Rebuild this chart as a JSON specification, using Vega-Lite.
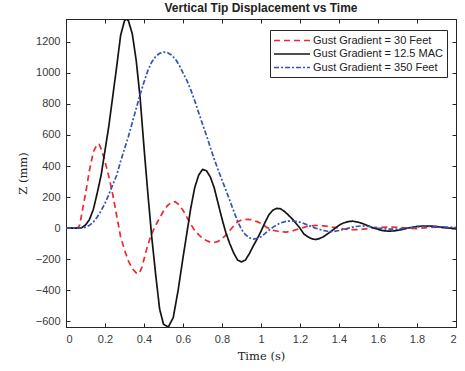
{
  "$schema": "https://vega.github.io/schema/vega-lite/v6.json",
  "autosize": {"type": "none"},
  "padding": {"left": 66, "top": 19, "right": 9, "bottom": 44},
  "width": 390,
  "height": 308,
  "background": "white",
  "title": {"text": "Vertical Tip Displacement vs Time", "font": "Liberation Sans", "fontSize": 12, "fontWeight": "bold", "color": "#222222", "anchor": "middle", "offset": 4},
  "datasets": {
    "pts": [
      {"t":0,"z":0,"s":"30 Feet"},{"t":0.06,"z":0,"s":"30 Feet"},{"t":0.07,"z":20,"s":"30 Feet"},{"t":0.08,"z":85,"s":"30 Feet"},{"t":0.09,"z":155,"s":"30 Feet"},{"t":0.1,"z":220,"s":"30 Feet"},{"t":0.12,"z":370,"s":"30 Feet"},{"t":0.14,"z":490,"s":"30 Feet"},{"t":0.16,"z":540,"s":"30 Feet"},{"t":0.17,"z":540,"s":"30 Feet"},{"t":0.18,"z":510,"s":"30 Feet"},{"t":0.2,"z":430,"s":"30 Feet"},{"t":0.22,"z":330,"s":"30 Feet"},{"t":0.24,"z":215,"s":"30 Feet"},{"t":0.26,"z":80,"s":"30 Feet"},{"t":0.28,"z":-55,"s":"30 Feet"},{"t":0.3,"z":-140,"s":"30 Feet"},{"t":0.32,"z":-210,"s":"30 Feet"},{"t":0.34,"z":-260,"s":"30 Feet"},{"t":0.36,"z":-288,"s":"30 Feet"},{"t":0.375,"z":-292,"s":"30 Feet"},{"t":0.39,"z":-250,"s":"30 Feet"},{"t":0.4,"z":-200,"s":"30 Feet"},{"t":0.42,"z":-105,"s":"30 Feet"},{"t":0.44,"z":-35,"s":"30 Feet"},{"t":0.46,"z":20,"s":"30 Feet"},{"t":0.48,"z":65,"s":"30 Feet"},{"t":0.5,"z":110,"s":"30 Feet"},{"t":0.52,"z":145,"s":"30 Feet"},{"t":0.54,"z":165,"s":"30 Feet"},{"t":0.56,"z":170,"s":"30 Feet"},{"t":0.58,"z":150,"s":"30 Feet"},{"t":0.6,"z":115,"s":"30 Feet"},{"t":0.62,"z":70,"s":"30 Feet"},{"t":0.64,"z":25,"s":"30 Feet"},{"t":0.66,"z":-15,"s":"30 Feet"},{"t":0.68,"z":-42,"s":"30 Feet"},{"t":0.7,"z":-65,"s":"30 Feet"},{"t":0.72,"z":-80,"s":"30 Feet"},{"t":0.74,"z":-90,"s":"30 Feet"},{"t":0.76,"z":-92,"s":"30 Feet"},{"t":0.78,"z":-85,"s":"30 Feet"},{"t":0.8,"z":-68,"s":"30 Feet"},{"t":0.82,"z":-45,"s":"30 Feet"},{"t":0.84,"z":-15,"s":"30 Feet"},{"t":0.86,"z":15,"s":"30 Feet"},{"t":0.88,"z":40,"s":"30 Feet"},{"t":0.9,"z":52,"s":"30 Feet"},{"t":0.92,"z":56,"s":"30 Feet"},{"t":0.95,"z":55,"s":"30 Feet"},{"t":0.98,"z":42,"s":"30 Feet"},{"t":1.0,"z":30,"s":"30 Feet"},{"t":1.03,"z":5,"s":"30 Feet"},{"t":1.06,"z":-13,"s":"30 Feet"},{"t":1.1,"z":-24,"s":"30 Feet"},{"t":1.13,"z":-25,"s":"30 Feet"},{"t":1.16,"z":-18,"s":"30 Feet"},{"t":1.2,"z":-2,"s":"30 Feet"},{"t":1.24,"z":12,"s":"30 Feet"},{"t":1.28,"z":18,"s":"30 Feet"},{"t":1.32,"z":15,"s":"30 Feet"},{"t":1.36,"z":8,"s":"30 Feet"},{"t":1.4,"z":0,"s":"30 Feet"},{"t":1.45,"z":-10,"s":"30 Feet"},{"t":1.5,"z":-10,"s":"30 Feet"},{"t":1.55,"z":-2,"s":"30 Feet"},{"t":1.6,"z":5,"s":"30 Feet"},{"t":1.65,"z":7,"s":"30 Feet"},{"t":1.7,"z":6,"s":"30 Feet"},{"t":1.75,"z":0,"s":"30 Feet"},{"t":1.8,"z":-3,"s":"30 Feet"},{"t":1.85,"z":3,"s":"30 Feet"},{"t":1.9,"z":7,"s":"30 Feet"},{"t":1.95,"z":2,"s":"30 Feet"},{"t":2.0,"z":-5,"s":"30 Feet"},

      {"t":0,"z":0,"s":"12.5 MAC"},{"t":0.05,"z":0,"s":"12.5 MAC"},{"t":0.08,"z":3,"s":"12.5 MAC"},{"t":0.1,"z":20,"s":"12.5 MAC"},{"t":0.12,"z":55,"s":"12.5 MAC"},{"t":0.14,"z":120,"s":"12.5 MAC"},{"t":0.16,"z":225,"s":"12.5 MAC"},{"t":0.18,"z":340,"s":"12.5 MAC"},{"t":0.2,"z":500,"s":"12.5 MAC"},{"t":0.22,"z":660,"s":"12.5 MAC"},{"t":0.24,"z":850,"s":"12.5 MAC"},{"t":0.26,"z":1040,"s":"12.5 MAC"},{"t":0.28,"z":1240,"s":"12.5 MAC"},{"t":0.3,"z":1335,"s":"12.5 MAC"},{"t":0.31,"z":1346,"s":"12.5 MAC"},{"t":0.32,"z":1335,"s":"12.5 MAC"},{"t":0.34,"z":1250,"s":"12.5 MAC"},{"t":0.36,"z":1080,"s":"12.5 MAC"},{"t":0.38,"z":840,"s":"12.5 MAC"},{"t":0.4,"z":520,"s":"12.5 MAC"},{"t":0.42,"z":220,"s":"12.5 MAC"},{"t":0.44,"z":-60,"s":"12.5 MAC"},{"t":0.46,"z":-300,"s":"12.5 MAC"},{"t":0.48,"z":-520,"s":"12.5 MAC"},{"t":0.5,"z":-618,"s":"12.5 MAC"},{"t":0.525,"z":-636,"s":"12.5 MAC"},{"t":0.55,"z":-575,"s":"12.5 MAC"},{"t":0.575,"z":-400,"s":"12.5 MAC"},{"t":0.6,"z":-190,"s":"12.5 MAC"},{"t":0.62,"z":-30,"s":"12.5 MAC"},{"t":0.64,"z":130,"s":"12.5 MAC"},{"t":0.66,"z":260,"s":"12.5 MAC"},{"t":0.68,"z":340,"s":"12.5 MAC"},{"t":0.7,"z":378,"s":"12.5 MAC"},{"t":0.72,"z":370,"s":"12.5 MAC"},{"t":0.74,"z":330,"s":"12.5 MAC"},{"t":0.76,"z":260,"s":"12.5 MAC"},{"t":0.78,"z":160,"s":"12.5 MAC"},{"t":0.8,"z":60,"s":"12.5 MAC"},{"t":0.82,"z":-30,"s":"12.5 MAC"},{"t":0.84,"z":-100,"s":"12.5 MAC"},{"t":0.86,"z":-160,"s":"12.5 MAC"},{"t":0.88,"z":-205,"s":"12.5 MAC"},{"t":0.9,"z":-217,"s":"12.5 MAC"},{"t":0.92,"z":-205,"s":"12.5 MAC"},{"t":0.94,"z":-165,"s":"12.5 MAC"},{"t":0.96,"z":-115,"s":"12.5 MAC"},{"t":0.98,"z":-70,"s":"12.5 MAC"},{"t":1.0,"z":-20,"s":"12.5 MAC"},{"t":1.02,"z":35,"s":"12.5 MAC"},{"t":1.04,"z":85,"s":"12.5 MAC"},{"t":1.06,"z":115,"s":"12.5 MAC"},{"t":1.08,"z":127,"s":"12.5 MAC"},{"t":1.1,"z":125,"s":"12.5 MAC"},{"t":1.12,"z":108,"s":"12.5 MAC"},{"t":1.14,"z":85,"s":"12.5 MAC"},{"t":1.16,"z":60,"s":"12.5 MAC"},{"t":1.18,"z":30,"s":"12.5 MAC"},{"t":1.2,"z":0,"s":"12.5 MAC"},{"t":1.22,"z":-38,"s":"12.5 MAC"},{"t":1.24,"z":-55,"s":"12.5 MAC"},{"t":1.26,"z":-68,"s":"12.5 MAC"},{"t":1.28,"z":-73,"s":"12.5 MAC"},{"t":1.3,"z":-67,"s":"12.5 MAC"},{"t":1.32,"z":-55,"s":"12.5 MAC"},{"t":1.34,"z":-38,"s":"12.5 MAC"},{"t":1.36,"z":-20,"s":"12.5 MAC"},{"t":1.38,"z":0,"s":"12.5 MAC"},{"t":1.4,"z":18,"s":"12.5 MAC"},{"t":1.42,"z":32,"s":"12.5 MAC"},{"t":1.45,"z":43,"s":"12.5 MAC"},{"t":1.47,"z":45,"s":"12.5 MAC"},{"t":1.5,"z":38,"s":"12.5 MAC"},{"t":1.52,"z":30,"s":"12.5 MAC"},{"t":1.55,"z":15,"s":"12.5 MAC"},{"t":1.58,"z":0,"s":"12.5 MAC"},{"t":1.62,"z":-15,"s":"12.5 MAC"},{"t":1.65,"z":-19,"s":"12.5 MAC"},{"t":1.68,"z":-18,"s":"12.5 MAC"},{"t":1.72,"z":-10,"s":"12.5 MAC"},{"t":1.76,"z":2,"s":"12.5 MAC"},{"t":1.8,"z":11,"s":"12.5 MAC"},{"t":1.84,"z":14,"s":"12.5 MAC"},{"t":1.88,"z":13,"s":"12.5 MAC"},{"t":1.92,"z":7,"s":"12.5 MAC"},{"t":1.96,"z":1,"s":"12.5 MAC"},{"t":2.0,"z":-3,"s":"12.5 MAC"},

      {"t":0,"z":0,"s":"350 Feet"},{"t":0.06,"z":0,"s":"350 Feet"},{"t":0.08,"z":1,"s":"350 Feet"},{"t":0.1,"z":6,"s":"350 Feet"},{"t":0.12,"z":18,"s":"350 Feet"},{"t":0.14,"z":38,"s":"350 Feet"},{"t":0.16,"z":72,"s":"350 Feet"},{"t":0.18,"z":112,"s":"350 Feet"},{"t":0.2,"z":160,"s":"350 Feet"},{"t":0.22,"z":218,"s":"350 Feet"},{"t":0.24,"z":280,"s":"350 Feet"},{"t":0.26,"z":340,"s":"350 Feet"},{"t":0.28,"z":430,"s":"350 Feet"},{"t":0.3,"z":510,"s":"350 Feet"},{"t":0.32,"z":590,"s":"350 Feet"},{"t":0.34,"z":680,"s":"350 Feet"},{"t":0.36,"z":770,"s":"350 Feet"},{"t":0.38,"z":860,"s":"350 Feet"},{"t":0.4,"z":940,"s":"350 Feet"},{"t":0.42,"z":1015,"s":"350 Feet"},{"t":0.44,"z":1070,"s":"350 Feet"},{"t":0.46,"z":1105,"s":"350 Feet"},{"t":0.48,"z":1125,"s":"350 Feet"},{"t":0.5,"z":1133,"s":"350 Feet"},{"t":0.52,"z":1130,"s":"350 Feet"},{"t":0.54,"z":1115,"s":"350 Feet"},{"t":0.56,"z":1090,"s":"350 Feet"},{"t":0.58,"z":1050,"s":"350 Feet"},{"t":0.6,"z":1000,"s":"350 Feet"},{"t":0.62,"z":950,"s":"350 Feet"},{"t":0.64,"z":890,"s":"350 Feet"},{"t":0.66,"z":820,"s":"350 Feet"},{"t":0.68,"z":745,"s":"350 Feet"},{"t":0.7,"z":670,"s":"350 Feet"},{"t":0.72,"z":598,"s":"350 Feet"},{"t":0.74,"z":520,"s":"350 Feet"},{"t":0.76,"z":445,"s":"350 Feet"},{"t":0.78,"z":375,"s":"350 Feet"},{"t":0.8,"z":310,"s":"350 Feet"},{"t":0.82,"z":245,"s":"350 Feet"},{"t":0.84,"z":178,"s":"350 Feet"},{"t":0.86,"z":110,"s":"350 Feet"},{"t":0.88,"z":45,"s":"350 Feet"},{"t":0.9,"z":-8,"s":"350 Feet"},{"t":0.92,"z":-42,"s":"350 Feet"},{"t":0.94,"z":-62,"s":"350 Feet"},{"t":0.96,"z":-70,"s":"350 Feet"},{"t":0.98,"z":-66,"s":"350 Feet"},{"t":1.0,"z":-55,"s":"350 Feet"},{"t":1.02,"z":-35,"s":"350 Feet"},{"t":1.04,"z":-15,"s":"350 Feet"},{"t":1.06,"z":5,"s":"350 Feet"},{"t":1.08,"z":20,"s":"350 Feet"},{"t":1.1,"z":34,"s":"350 Feet"},{"t":1.13,"z":44,"s":"350 Feet"},{"t":1.16,"z":47,"s":"350 Feet"},{"t":1.19,"z":42,"s":"350 Feet"},{"t":1.22,"z":30,"s":"350 Feet"},{"t":1.25,"z":15,"s":"350 Feet"},{"t":1.28,"z":0,"s":"350 Feet"},{"t":1.31,"z":-12,"s":"350 Feet"},{"t":1.34,"z":-20,"s":"350 Feet"},{"t":1.37,"z":-22,"s":"350 Feet"},{"t":1.4,"z":-15,"s":"350 Feet"},{"t":1.44,"z":-3,"s":"350 Feet"},{"t":1.48,"z":10,"s":"350 Feet"},{"t":1.52,"z":15,"s":"350 Feet"},{"t":1.56,"z":10,"s":"350 Feet"},{"t":1.6,"z":0,"s":"350 Feet"},{"t":1.65,"z":-6,"s":"350 Feet"},{"t":1.7,"z":-6,"s":"350 Feet"},{"t":1.75,"z":0,"s":"350 Feet"},{"t":1.8,"z":8,"s":"350 Feet"},{"t":1.85,"z":12,"s":"350 Feet"},{"t":1.9,"z":10,"s":"350 Feet"},{"t":1.95,"z":7,"s":"350 Feet"},{"t":2.0,"z":4,"s":"350 Feet"}
    ]
  },
  "data": {"name": "pts"},
  "layer": [
    {
      "mark": {"type": "line", "strokeWidth": 1.7, "clip": true},
      "encoding": {
        "x": {"field": "t", "type": "quantitative",
              "scale": {"domain": [0, 2], "nice": false, "zero": false},
              "axis": {"orient": "bottom", "values": [0,0.2,0.4,0.6,0.8,1,1.2,1.4,1.6,1.8,2], "format": "~g",
                       "title": "Time (s)", "titleFont": "DejaVu Serif", "titleFontSize": 11.5, "titleFontWeight": "normal", "titleColor": "#222222",
                       "titleX": 195, "titleY": 29, "titleBaseline": "middle", "titleAlign": "center"}},
        "y": {"field": "z", "type": "quantitative",
              "scale": {"domain": [-636, 1346], "nice": false, "zero": false},
              "axis": {"orient": "left", "values": [-600,-400,-200,0,200,400,600,800,1000,1200], "format": "d",
                       "title": "Z (mm)", "titleFont": "DejaVu Serif", "titleFontSize": 11.5, "titleFontWeight": "normal", "titleColor": "#222222",
                       "titleX": -43, "titleY": 154, "titleAngle": -90, "titleBaseline": "middle", "titleAlign": "center"}},
        "color": {"field": "s", "type": "nominal",
                  "scale": {"domain": ["30 Feet", "12.5 MAC", "350 Feet"], "range": ["#ec2a30", "#141414", "#3553b4"]},
                  "legend": {"labelExpr": "'Gust Gradient = ' + datum.label", "labelAlign": "left", "columns": 1, "direction": "vertical"}},
        "strokeDash": {"field": "s", "type": "nominal",
                  "scale": {"domain": ["30 Feet", "12.5 MAC", "350 Feet"], "range": [[6, 4], [1, 0], [5, 2, 2, 2]]},
                  "legend": {"labelExpr": "'Gust Gradient = ' + datum.label", "labelAlign": "left", "columns": 1, "direction": "vertical"}}
      }
    },
    {
      "mark": {"type": "line", "opacity": 0},
      "encoding": {
        "x": {"field": "t", "type": "quantitative",
              "axis": {"orient": "top", "values": [0,0.2,0.4,0.6,0.8,1,1.2,1.4,1.6,1.8,2], "labels": false, "title": null}},
        "y": {"field": "z", "type": "quantitative",
              "axis": {"orient": "right", "values": [-600,-400,-200,0,200,400,600,800,1000,1200], "labels": false, "title": null}}
      }
    }
  ],
  "resolve": {"axis": {"x": "independent", "y": "independent"}},
  "config": {
    "view": {"stroke": "#262626", "strokeWidth": 1},
    "axis": {
      "grid": false,
      "domain": true, "domainColor": "#262626", "domainWidth": 1,
      "ticks": true, "tickColor": "#262626", "tickSize": -4, "tickWidth": 1,
      "labelFont": "Liberation Sans", "labelFontSize": 11, "labelColor": "#3a3a3a",
      "labelPadding": 10
    },
    "legend": {
      "orient": "none", "legendX": 204, "legendY": 11,
      "title": null,
      "strokeColor": "#262626", "fillColor": "white",
      "padding": 4, "rowPadding": 1.5,
      "symbolType": "M-1.18,0H5.36", "symbolSize": 121, "symbolStrokeWidth": 1.5,
      "symbolOffset": 0, "labelOffset": 26,
      "labelFont": "Liberation Sans", "labelFontSize": 11, "labelColor": "#222222"
    }
  }
}
